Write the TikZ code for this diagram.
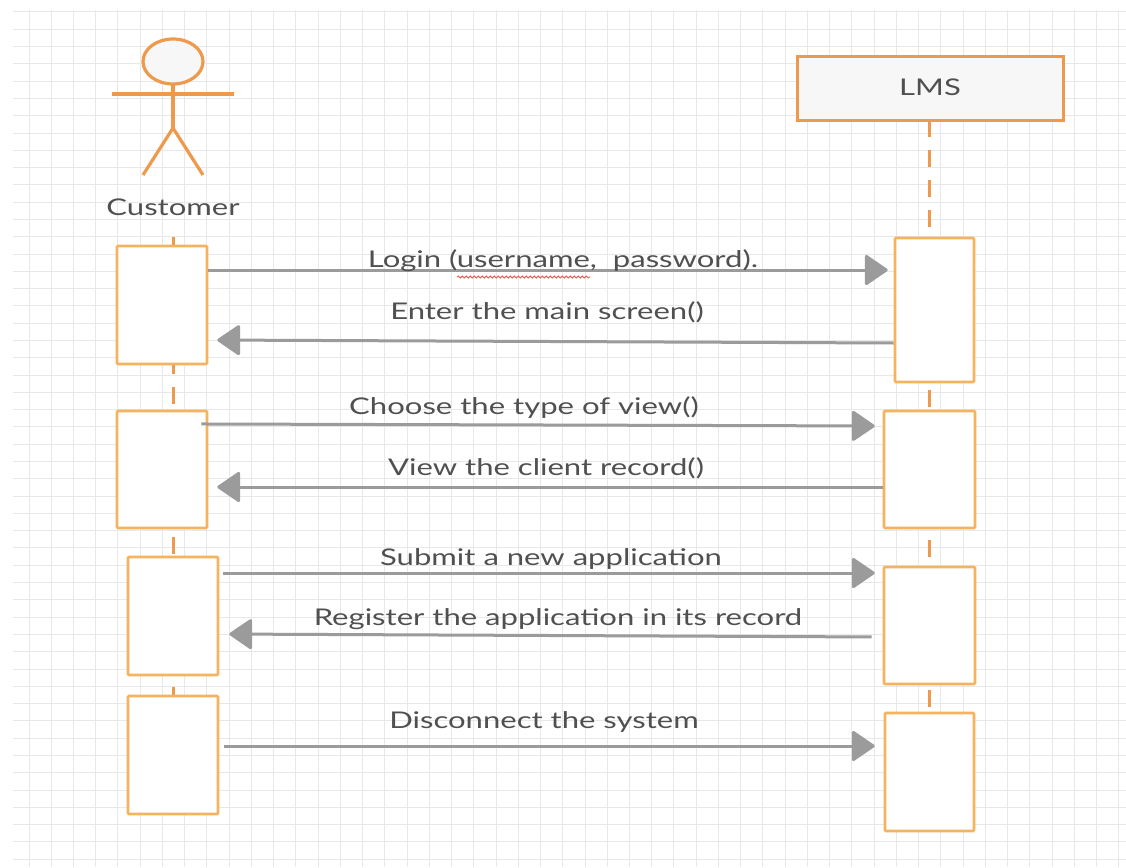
\documentclass[tikz,border=0pt]{standalone}
\usepackage{fontspec}
\setmainfont{Lato}
\usetikzlibrary{arrows.meta,decorations.pathmorphing}
\definecolor{actorc}{HTML}{EE9A4D}
\definecolor{actc}{HTML}{F5B25F}
\definecolor{arrc}{HTML}{9B9B9B}
\definecolor{txtc}{HTML}{505050}
\definecolor{gridc}{HTML}{E8E8E8}
\definecolor{boxfill}{HTML}{F7F7F7}
\newcommand{\hstr}[1]{\scalebox{1.35}[1]{#1}}
\tikzset{
  gridline/.style={draw=gridc, line width=1pt},
  actbox/.style={draw=actc, fill=white, line width=2.6pt, rounded corners=1pt, inner sep=0pt},
  objbox/.style={draw=actorc, fill=boxfill, line width=3pt, inner sep=0pt},
  actorline/.style={draw=actorc, line width=3.2pt},
  lifeline/.style={draw=actorc, line width=3pt, dash pattern=on 17pt off 13pt},
  msg/.style={draw=arrc, line width=3pt, -{Triangle[length=24pt,width=32pt,round]}},
  lbl/.style={text=txtc, font=\fontsize{23}{27}\selectfont, anchor=base, inner sep=0pt},
}
\begin{document}
\begin{tikzpicture}[x=1pt,y=-1pt]
\useasboundingbox (0,0) rectangle (1126,867);
\fill[white] (0,0) rectangle (1126,867);
% grid
\foreach \i in {0,...,49} \draw[gridline] ({29+22.24*\i},10) -- ({29+22.24*\i},867);
\foreach \j in {0,...,49} \draw[gridline] (13,{12+17.29*\j}) -- (1126,{12+17.29*\j});

% actor
\draw[actorline, fill=boxfill] (173,61.5) ellipse [x radius=30, y radius=22.5];
\draw[actorline] (173,84) -- (173,128);
\draw[actorline] (112,94) -- (234,94);
\draw[actorline] (143,175) -- (173,128) -- (203,175);
\node[lbl] (cust) at (173,215) {\hstr{Customer}};
\coordinate (custtop) at (173,237);

% LMS object
\node[objbox, minimum width=266pt, minimum height=63pt] (lms) at (930,88.5) {};
\node[lbl] (lmslbl) at (930,95) {\hstr{LMS}};
\coordinate (lmsend) at (929,835);

% lifelines
\draw[lifeline] (custtop) -- (173,814);
\draw[lifeline] (929,120) -- (lmsend);

% activation boxes
\node[actbox, minimum width=90pt, minimum height=118pt] (c1) at (162,305) {};
\node[actbox, minimum width=90pt, minimum height=117pt] (c2) at (162,469.5) {};
\node[actbox, minimum width=90pt, minimum height=118pt] (c3) at (173,616) {};
\node[actbox, minimum width=90pt, minimum height=118pt] (c4) at (173,755) {};
\node[actbox, minimum width=79pt, minimum height=144pt] (r1) at (934.5,310) {};
\node[actbox, minimum width=91pt, minimum height=117pt] (r2) at (929.5,469.5) {};
\node[actbox, minimum width=91pt, minimum height=117pt] (r3) at (929.5,625.5) {};
\node[actbox, minimum width=89pt, minimum height=118pt] (r4) at (929.5,772) {};

% messages
\draw[msg, shorten >=6pt] (c1.east |- 0,270) -- (r1.west |- 0,270);
\draw[msg, shorten >=9pt] (r1.west |- 0,343) -- (c1.east |- 0,340);
\draw[msg, shorten <=-7pt, shorten >=8pt] (c2.east |- 0,424) -- (r2.west |- 0,426);
\draw[msg, shorten >=9pt] (r2.west |- 0,487) -- (c2.east |- 0,487);
\draw[msg, shorten <=4pt, shorten >=8pt] (c3.east |- 0,573) -- (r3.west |- 0,573);
\draw[msg, shorten <=11pt, shorten >=10pt] (r3.west |- 0,637) -- (c3.east |- 0,634);
\draw[msg, shorten <=5pt, shorten >=9pt] (c4.east |- 0,746) -- (r4.west |- 0,746);

% labels
\node[lbl] (m1) at (563,267) {\hstr{Login (username,\ \ password).}};
\draw[red!70, line width=0.8pt, decorate, decoration={snake, amplitude=1pt, segment length=4pt}] (457,277) -- (590,277);
\node[lbl] (m2) at (547,319) {\hstr{Enter the main screen()}};
\node[lbl] (m3) at (524,414) {\hstr{Choose the type of view()}};
\node[lbl] (m4) at (546,475) {\hstr{View the client record()}};
\node[lbl] (m5) at (551,565) {\hstr{Submit a new application}};
\node[lbl] (m6) at (558,625) {\hstr{Register the application in its record}};
\node[lbl] (m7) at (544,728) {\hstr{Disconnect the system}};
\end{tikzpicture}
\end{document}
